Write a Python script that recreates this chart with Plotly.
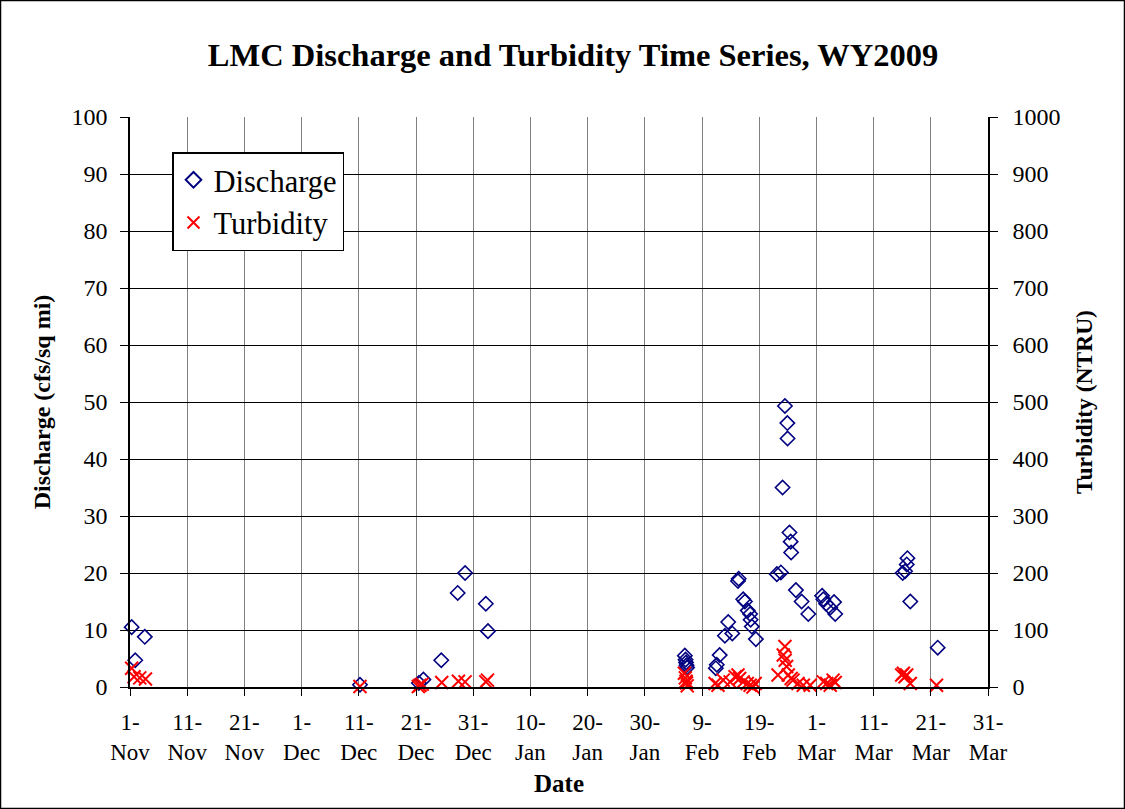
import plotly.graph_objects as go

# ---- data ----
discharge_dates = [
    "2008-11-01 07:00", "2008-11-01 22:00", "2008-11-03 14:00",
    "2008-12-11 05:00", "2008-12-21 12:00", "2008-12-22 07:00",
    "2008-12-25 10:00", "2008-12-28 07:00", "2008-12-29 14:00",
    "2009-01-02 05:00", "2009-01-02 14:00",
    "2009-02-06 00:00", "2009-02-06 03:00", "2009-02-06 05:00", "2009-02-06 07:00", "2009-02-06 09:00",
    "2009-02-11 10:00", "2009-02-11 14:00", "2009-02-12 02:00",
    "2009-02-13 00:00", "2009-02-13 14:00", "2009-02-14 07:00",
    "2009-02-15 07:00", "2009-02-15 10:00",
    "2009-02-16 05:00", "2009-02-16 12:00", "2009-02-17 00:00", "2009-02-17 10:00",
    "2009-02-17 12:00", "2009-02-17 17:00", "2009-02-18 10:00",
    "2009-02-22 02:00", "2009-02-22 19:00", "2009-02-23 02:00", "2009-02-23 12:00",
    "2009-02-23 22:00", "2009-02-23 23:00", "2009-02-24 07:00", "2009-02-24 12:00",
    "2009-02-24 14:00", "2009-02-25 10:00", "2009-02-26 10:00", "2009-02-27 14:00",
    "2009-03-02 00:00", "2009-03-02 05:00", "2009-03-02 17:00", "2009-03-03 10:00",
    "2009-03-04 02:00", "2009-03-04 07:00",
    "2009-03-16 02:00", "2009-03-16 12:00", "2009-03-16 19:00", "2009-03-16 22:00",
    "2009-03-17 10:00", "2009-03-22 05:00",
]
discharge_values = [
    10.5, 4.7, 8.8,
    0.4, 0.7, 1.3,
    4.7, 16.5, 20.0,
    14.6, 9.8,
    5.5, 4.8, 4.3, 3.8, 3.4,
    3.3, 3.9, 5.6,
    9.0, 11.4, 9.4,
    18.6, 19.0,
    15.4, 15.0, 13.4, 12.8,
    11.8, 10.6, 8.4,
    19.8, 20.1, 35.0, 49.3,
    46.3, 43.6, 27.1, 25.5,
    23.6, 17.0, 15.0, 12.8,
    16.0, 15.4, 14.6, 13.9,
    14.9, 12.8,
    20.0, 20.3, 21.5, 22.6,
    15.0, 6.9,
]

turbidity_dates = [
    "2008-11-01 07:00", "2008-11-01 17:00", "2008-11-02 17:00", "2008-11-03 17:00",
    "2008-12-11 05:00", "2008-12-21 10:00", "2008-12-21 17:00", "2008-12-22 02:00",
    "2008-12-25 12:00", "2008-12-28 10:00", "2008-12-29 14:00",
    "2009-01-02 05:00", "2009-01-02 12:00",
    "2009-02-05 22:00", "2009-02-06 02:00", "2009-02-06 05:00", "2009-02-06 07:00", "2009-02-06 10:00",
    "2009-02-11 07:00", "2009-02-11 19:00", "2009-02-12 17:00", "2009-02-13 22:00",
    "2009-02-14 19:00", "2009-02-15 07:00", "2009-02-15 14:00", "2009-02-16 05:00",
    "2009-02-16 22:00", "2009-02-17 10:00", "2009-02-17 22:00", "2009-02-18 07:00",
    "2009-02-22 07:00", "2009-02-23 05:00", "2009-02-23 12:00", "2009-02-23 13:00",
    "2009-02-23 19:00", "2009-02-24 02:00", "2009-02-24 14:00", "2009-02-24 22:00",
    "2009-02-25 19:00", "2009-02-26 17:00", "2009-02-27 22:00",
    "2009-03-02 05:00", "2009-03-02 19:00", "2009-03-03 10:00", "2009-03-03 22:00",
    "2009-03-04 07:00",
    "2009-03-15 22:00", "2009-03-16 05:00", "2009-03-16 12:00", "2009-03-16 19:00",
    "2009-03-17 10:00", "2009-03-22 00:00",
]
turbidity_values = [
    33, 18, 16, 14,
    1, 1, 3, 5,
    8, 10, 9,
    9, 12,
    24, 16, 10, 7, 2,
    6, 3, 12, 9,
    18, 21, 15, 9,
    6, 3, 0, 6,
    21, 56, 71, 47,
    36, 21, 15, 12,
    6, 3, 3,
    9, 6, 3, 12,
    8,
    21, 24, 18, 21,
    6, 3,
]

tick_dates = [
    "2008-11-01", "2008-11-11", "2008-11-21", "2008-12-01", "2008-12-11",
    "2008-12-21", "2008-12-31", "2009-01-10", "2009-01-20", "2009-01-30",
    "2009-02-09", "2009-02-19", "2009-03-01", "2009-03-11", "2009-03-21",
    "2009-03-31",
]
tick_labels = [
    "1-<br>Nov", "11-<br>Nov", "21-<br>Nov", "1-<br>Dec", "11-<br>Dec",
    "21-<br>Dec", "31-<br>Dec", "10-<br>Jan", "20-<br>Jan", "30-<br>Jan",
    "9-<br>Feb", "19-<br>Feb", "1-<br>Mar", "11-<br>Mar", "21-<br>Mar",
    "31-<br>Mar",
]

FONT = "Liberation Serif, Times New Roman, serif"

fig = go.Figure()
fig.add_trace(go.Scatter(
    x=discharge_dates, y=discharge_values, name="Discharge", mode="markers",
    marker=dict(symbol="diamond-open", size=11, color="#000080",
                line=dict(width=1.6, color="#000080")),
    cliponaxis=False,
))
fig.add_trace(go.Scatter(
    x=turbidity_dates, y=turbidity_values, name="Turbidity", mode="markers",
    yaxis="y2",
    marker=dict(symbol="x-thin-open", size=13, color="#FF0000",
                line=dict(width=2, color="#FF0000")),
    cliponaxis=False,
))

fig.update_layout(
    width=1125, height=809,
    margin=dict(l=130, r=137, t=117, b=122),
    paper_bgcolor="white", plot_bgcolor="white",
    font=dict(family=FONT, color="black", size=23),
    showlegend=True,
    title=dict(text="<b>LMC Discharge and Turbidity Time Series, WY2009</b>",
               x=573 / 1125, xref="container", xanchor="center",
               y=1 - 55 / 809, yref="container", yanchor="middle",
               font=dict(family=FONT, size=32.5, color="black")),
    xaxis=dict(
        type="date", range=["2008-11-01", "2009-03-31"],
        tickvals=tick_dates, ticktext=tick_labels,
        showgrid=True, gridcolor="#808080", gridwidth=1,
        showline=True, linecolor="black", linewidth=1.5, mirror=False,
        ticks="outside", ticklen=7, tickcolor="black",
        tickfont=dict(family=FONT, size=23),
        ticklabelstandoff=7,
        title=dict(text="<b>Date</b>", font=dict(family=FONT, size=25), standoff=10),
        zeroline=False,
    ),
    yaxis=dict(
        range=[0, 100], dtick=10,
        showgrid=True, gridcolor="black", gridwidth=1,
        showline=True, linecolor="black", linewidth=1.5,
        ticks="outside", ticklen=8, tickcolor="black",
        tickfont=dict(family=FONT, size=24),
        ticklabelstandoff=8,
        title=dict(text="<b>Discharge (cfs/sq mi)</b>", font=dict(family=FONT, size=24),
                   standoff=14),
        zeroline=False,
    ),
    yaxis2=dict(
        range=[0, 1000], dtick=100, overlaying="y", side="right",
        showgrid=False,
        showline=True, linecolor="black", linewidth=1.5,
        ticks="outside", ticklen=8, tickcolor="black",
        tickfont=dict(family=FONT, size=24),
        ticklabelstandoff=10,
        title=dict(text="<b>Turbidity (NTRU)</b>", font=dict(family=FONT, size=23.5),
                   standoff=16),
        zeroline=False,
    ),
    legend=dict(
        x=(172 - 130) / 858, y=(687 - 152) / 570, xanchor="left", yanchor="top",
        bgcolor="white", bordercolor="black", borderwidth=1.5,
        font=dict(family=FONT, size=30.5, color="black"),
        itemsizing="constant",
    ),
    shapes=[dict(
        type="rect", xref="paper", yref="paper",
        x0=-129.5 / 858, x1=(1124.5 - 130) / 858,
        y0=(687 - 808.5) / 570, y1=(687 - 0.5) / 570,
        line=dict(color="black", width=1.5), fillcolor="rgba(0,0,0,0)",
    )],
)

fig.write_html("out.html", config={"displayModeBar": False},
               post_script="document.body.style.margin='0';document.body.style.overflow='hidden';")
